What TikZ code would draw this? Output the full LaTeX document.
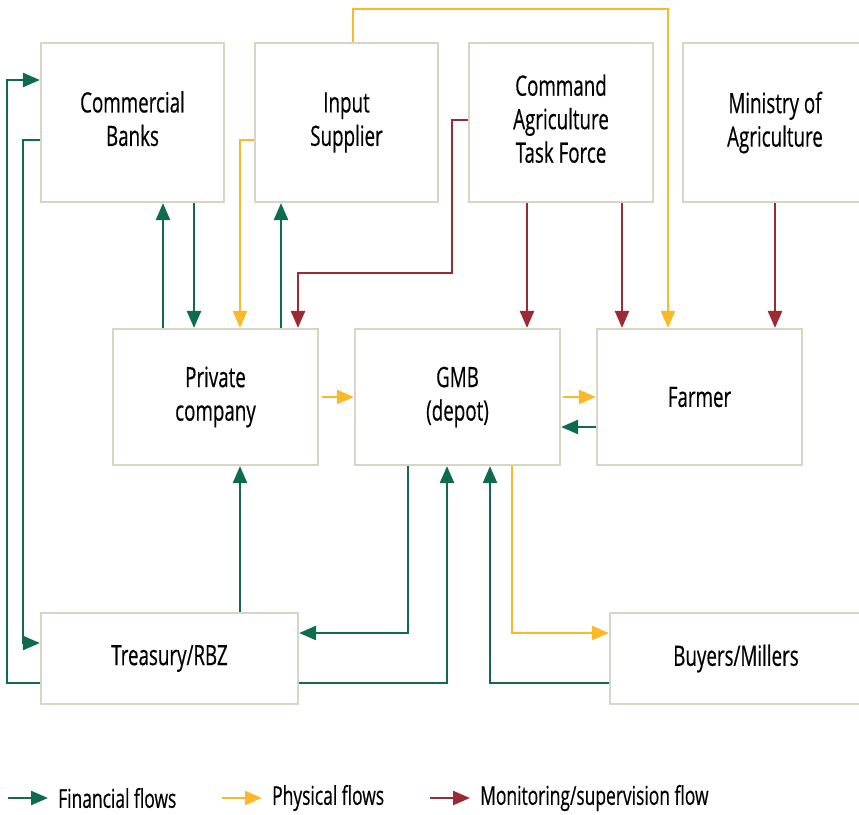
\documentclass[tikz,border=0pt]{standalone}
\usepackage{fontspec}
\setmainfont{Open Sans}[FakeStretch=0.67,FakeBold=0.4]
\usetikzlibrary{arrows.meta}
\definecolor{fingreen}{HTML}{0F6B50}
\definecolor{physyellow}{HTML}{FBB829}
\definecolor{monred}{HTML}{9C2A35}
\definecolor{boxline}{HTML}{D5D6C3}
\newcommand{\liftup}[1]{\raisebox{5pt}{\begin{tabular}{@{}c@{}}#1\end{tabular}}}

\begin{document}
\begin{tikzpicture}[x=1pt,y=-1pt,
  box/.style={draw=boxline,line width=2.2pt,align=center,inner sep=0pt,
    font=\fontsize{28}{33.5}\selectfont},
  legtxt/.style={anchor=west,inner sep=0pt,font=\fontsize{26}{30}\selectfont},
  flow/.style={line width=2.5pt,-{Triangle[length=17pt,width=14pt]}},
  fin/.style={flow,draw=fingreen},
  phys/.style={flow,draw=physyellow},
  mon/.style={flow,draw=monred}]
%\draw[step=50,gray,very thin] (0,0) grid (859,814);
\useasboundingbox (0,0) rectangle (859,814);
% boxes
\node[box,minimum width=183pt,minimum height=159pt] (banks) at (132.5,122.5) {\liftup{Commercial\\Banks}};
\node[box,minimum width=183pt,minimum height=159pt] (input) at (346.5,122.5) {Input\\Supplier};
\node[box,minimum width=184pt,minimum height=159pt] (cmd) at (561,122.5) {\liftup{Command\\Agriculture\\Task Force}};
\node[box,minimum width=184pt,minimum height=159pt] (moa) at (775,122.5) {Ministry of\\Agriculture};
\node[box,minimum width=205pt,minimum height=136pt] (priv) at (215.5,397) {Private\\company};
\node[box,minimum width=205pt,minimum height=136pt] (gmb) at (457.5,397) {GMB\\(depot)};
\node[box,minimum width=205pt,minimum height=136pt] (farmer) at (699.5,397) {Farmer};
\node[box,minimum width=257pt,minimum height=91pt] (treas) at (169.5,658.5) {Treasury/RBZ};
\node[box,minimum width=252pt,minimum height=91pt] (buyers) at (736,658.5) {Buyers/Millers};
% top row
\draw[fin] ([yshift=-24.5pt]treas.west) -- ++(-33,0) |- ([yshift=42.5pt]banks.west);
\draw[fin] ([yshift=-17.5pt]banks.west) -- ++(-17,0) |- ([yshift=15.5pt]treas.west);
\draw[fin] ([xshift=-52.5pt]priv.north) -- ([xshift=-52.5pt]priv.north |- banks.south);
\draw[fin] ([xshift=61.5pt]banks.south) -- ([xshift=61.5pt]banks.south |- priv.north);
\draw[phys] ([yshift=-17.5pt]input.west) -| ([xshift=24.5pt]priv.north);
\draw[fin] ([xshift=65.5pt]priv.north) -- ([xshift=65.5pt]priv.north |- input.south);
\draw[mon] ([yshift=2.5pt]cmd.west) -- ++(-16,0) -- ++(0,153) -| ([xshift=82.5pt]priv.north);
\draw[phys] ([xshift=6.5pt]input.north) -- ++(0,-33) -| ([xshift=-31.5pt]farmer.north);
\draw[mon] ([xshift=-34pt]cmd.south) -- ([xshift=-34pt]cmd.south |- gmb.north);
\draw[mon] ([xshift=61pt]cmd.south) -- ([xshift=61pt]cmd.south |- farmer.north);
\draw[mon] (moa.south) -- (moa.south |- farmer.north);
% middle row
\draw[phys,shorten <=3pt] (priv.east) -- (gmb.west);
\draw[phys,shorten <=2pt] (gmb.east) -- (farmer.west);
\draw[fin] ([yshift=-30pt]farmer.west) -- ([yshift=-30pt]farmer.west -| gmb.east);
% bottom row
\draw[fin] ([xshift=70.5pt]treas.north) -- ([xshift=70.5pt]treas.north |- priv.south);
\draw[fin] ([xshift=-49.5pt]gmb.south) |- ([yshift=25.5pt]treas.east);
\draw[fin] ([yshift=-24.5pt]treas.east) -| ([xshift=-10.5pt]gmb.south);
\draw[fin] ([yshift=-24.5pt]buyers.west) -| ([xshift=32.5pt]gmb.south);
\draw[phys] ([xshift=54.5pt]gmb.south) |- ([yshift=25.5pt]buyers.west);
% legend
\node[legtxt] (legfin) at (58,798) {Financial flows};
\node[legtxt] (legphys) at (272,798) {Physical flows};
\node[legtxt] (legmon) at (480,798) {Monitoring/supervision flow};
\coordinate (finstart) at (8,798);
\coordinate (physstart) at (222,798);
\coordinate (monstart) at (430,798);
\draw[fin] (finstart) -- ([xshift=-10pt]legfin.west);
\draw[phys] (physstart) -- ([xshift=-10pt]legphys.west);
\draw[mon] (monstart) -- ([xshift=-10pt]legmon.west);
\end{tikzpicture}
\end{document}
